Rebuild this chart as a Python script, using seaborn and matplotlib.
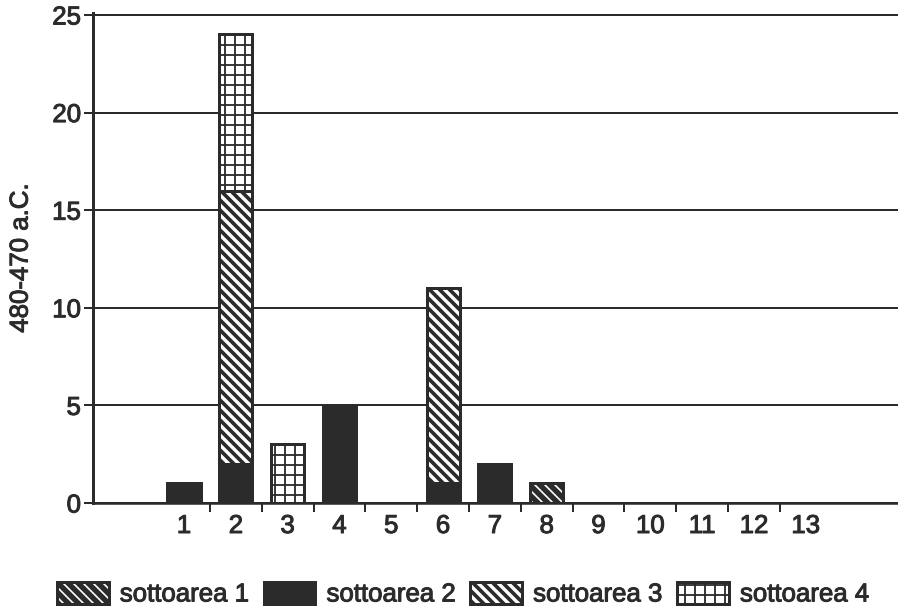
#!/usr/bin/env python3
"""Stacked bar chart 480-470 a.C. per sottoarea (hatched, b/w)"""

import numpy as np
import matplotlib
matplotlib.use("Agg")
import matplotlib.pyplot as plt
import matplotlib.patheffects as pe
from matplotlib.patches import Patch
from matplotlib.ticker import FixedLocator
import seaborn as sns

# Data
categorie = ["1", "2", "3", "4", "5", "6", "7", "8", "9", "10", "11", "12", "13"]
sottoarea_1 = [0, 0, 0, 0, 0, 0, 0, 1, 0, 0, 0, 0, 0]
sottoarea_2 = [1, 2, 0, 5, 0, 1, 2, 0, 0, 0, 0, 0, 0]
sottoarea_3 = [0, 14, 0, 0, 0, 10, 0, 0, 0, 0, 0, 0, 0]
sottoarea_4 = [0, 8, 3, 0, 0, 0, 0, 0, 0, 0, 0, 0, 0]
etichette = ["sottoarea 1", "sottoarea 2", "sottoarea 3", "sottoarea 4"]

scuro = "#2b2b2b"
DPI = 120
FS = 15.5
DIAG = chr(92) * 4   # backslashes -> dense diagonal hatch
GRIGLIA = "++"
spessore = [pe.withStroke(linewidth=0.6, foreground=scuro)]

sns.set_style("white")
plt.rcParams["font.family"] = ["Liberation Sans", "DejaVu Sans"]
plt.rcParams["hatch.linewidth"] = 1.5

fig = plt.figure(figsize=(898 / DPI, 609 / DPI), dpi=DPI)
ax = fig.add_axes([93 / 898, 1 - 503 / 609, 805 / 898, 490 / 609])


def set_hlw(patch, lw):
    if hasattr(patch, "set_hatch_linewidth"):
        patch.set_hatch_linewidth(lw)


def barre(valori, hatch_lw=None, **kw):
    n0 = len(ax.patches)
    sns.barplot(x=categorie, y=valori, order=categorie, width=0.64,
                saturation=1, errorbar=None, ax=ax, **kw)
    if hatch_lw is not None:
        for p in ax.patches[n0:]:
            set_hlw(p, hatch_lw)


# cumulative levels, drawn from the top down so lower layers cover upper ones
s1 = np.array(sottoarea_1)
s12 = s1 + np.array(sottoarea_2)
s123 = s12 + np.array(sottoarea_3)
totale = s123 + np.array(sottoarea_4)

barre(totale, hatch_lw=1.1, color=scuro, facecolor="white", edgecolor=scuro,
      hatch=GRIGLIA, linewidth=1.8)
barre(s123, hatch_lw=2.2, color=scuro, facecolor="white", edgecolor=scuro,
      hatch=DIAG, linewidth=1.8)
barre(s12, color=scuro, edgecolor=scuro, linewidth=1.8)
barre(s1, hatch_lw=1.0, color=scuro, facecolor=scuro, edgecolor="white",
      hatch=DIAG, linewidth=0)
barre(s1, fill=False, color=scuro, linewidth=1.8)

# Axes styling
ax.set_xlim(-1.757, 13.78)
ax.set_ylim(0, 25.1)
ax.set_yticks([0, 5, 10, 15, 20, 25])
ax.set_xticks(range(len(categorie)))
ax.set_xticklabels(categorie)
ax.xaxis.set_minor_locator(FixedLocator(np.arange(0.5, len(categorie) - 1, 1)))

ax.set_axisbelow(True)
ax.yaxis.grid(True, color=scuro, linewidth=1.2)
ax.xaxis.grid(False)

ax.tick_params(axis="y", which="major", left=True, length=5.4, width=1.2,
               pad=1.8, labelsize=FS, color=scuro, labelcolor=scuro)
ax.tick_params(axis="x", which="major", bottom=True, length=0, pad=6.6,
               labelsize=FS, labelcolor=scuro)
ax.tick_params(axis="x", which="minor", bottom=True, length=5.4, width=1.2,
               direction="out", color=scuro)
for lab in ax.get_xticklabels() + ax.get_yticklabels():
    lab.set_path_effects(spessore)

for lato in ["top", "right"]:
    ax.spines[lato].set_visible(False)
ax.spines["left"].set_linewidth(1.8)
ax.spines["left"].set_color(scuro)
ax.spines["bottom"].set_linewidth(1.5)
ax.spines["bottom"].set_color(scuro)

ax.set_xlabel("")
ax.set_ylabel("480-470 a.C.", fontsize=FS, color=scuro, path_effects=spessore)
ax.yaxis.set_label_coords(-0.075, 0.5)

# Legend
h1a = Patch(facecolor=scuro, edgecolor="white", hatch=DIAG, linewidth=0)
h1b = Patch(fill=False, edgecolor=scuro, linewidth=1.8)
h2 = Patch(facecolor=scuro, edgecolor=scuro, linewidth=1.8)
h3 = Patch(facecolor="white", edgecolor=scuro, hatch=DIAG, linewidth=1.8)
h4 = Patch(facecolor="white", edgecolor=scuro, hatch=GRIGLIA, linewidth=1.8)

leg = fig.legend([(h1a, h1b), h2, h3, h4], etichette, loc="center left",
                 bbox_to_anchor=(57 / 898, 1 - 594 / 609), ncol=4, frameon=False,
                 fontsize=FS, handlelength=2.0, handleheight=0.93,
                 handletextpad=0.43, columnspacing=0.54, borderpad=0,
                 borderaxespad=0)
for t in leg.get_texts():
    t.set_color(scuro)
    t.set_path_effects(spessore)

# hatch widths on the drawn legend patches
for artist in leg.findobj(matplotlib.patches.Rectangle):
    if artist.get_hatch() == DIAG:
        fc = artist.get_facecolor()
        set_hlw(artist, 1.0 if fc[0] < 0.5 else 2.2)
    elif artist.get_hatch() == GRIGLIA:
        set_hlw(artist, 1.1)

fig.savefig("out.png", dpi=DPI)
plt.close(fig)
